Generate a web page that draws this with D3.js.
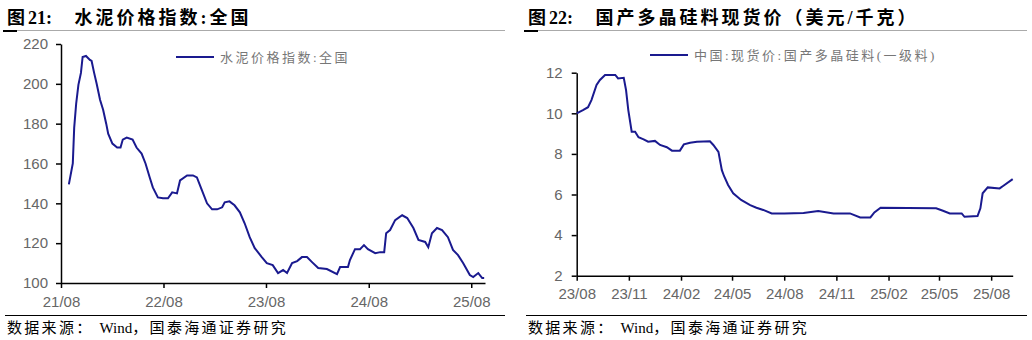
<!DOCTYPE html>
<html>
<head>
<meta charset="utf-8">
<style>
    body {
        margin: 0;
        background: #fff;
    }
    svg {
        display: block;
    }
    .title {
        font-family: "Liberation Serif", "Noto Sans CJK SC";
        font-size: 18px;
        font-weight: bold;
        letter-spacing: 3px;
        white-space: pre;
        fill: #000;
    }
    .source {
        font-family: "Liberation Serif", "Noto Sans CJK SC";
        font-size: 15px;
        letter-spacing: 2.3px;
        white-space: pre;
        fill: #000;
    }
    .tight {
        letter-spacing: 0;
    }
    .legend-text {
        font-family: "Liberation Serif", "Noto Sans CJK SC";
        font-size: 13px;
        letter-spacing: 2.5px;
        fill: #777;
    }
    .axis text {
        font-family: "Liberation Sans", Arial;
        font-size: 15px;
        fill: #666;
    }
    .axis path, .axis line {
        stroke: #000;
        stroke-width: 1.5px;
    }
    .series {
        fill: none;
        stroke: #1a1a8f;
        stroke-width: 2px;
    }
</style>
</head>
<body>
<script src="https://cdn.jsdelivr.net/npm/d3@7"></script>
<script>

    // 图21 水泥价格指数:全国
    var cementDates = [
        "2021-08-29","2021-09-12","2021-09-17","2021-09-24","2021-10-02","2021-10-11","2021-10-17","2021-10-29",
        "2021-11-12","2021-11-18","2021-11-27","2021-12-06","2021-12-18","2021-12-29","2022-01-09","2022-01-16",
        "2022-01-31","2022-02-17","2022-03-01","2022-03-09","2022-03-23","2022-04-13","2022-04-27","2022-05-15",
        "2022-05-29","2022-06-13","2022-06-24","2022-07-12","2022-07-30","2022-08-17","2022-09-01","2022-09-18",
        "2022-09-29","2022-10-24","2022-11-14","2022-11-28","2022-12-16","2023-01-03","2023-01-21","2023-02-08",
        "2023-02-26","2023-03-07","2023-03-24","2023-04-11","2023-04-30","2023-05-17","2023-06-04","2023-06-22",
        "2023-07-17","2023-08-04","2023-08-25","2023-09-13","2023-10-01","2023-10-15","2023-11-02","2023-11-20",
        "2023-12-07","2023-12-25","2024-01-12","2024-02-03","2024-03-05","2024-04-10","2024-04-21","2024-05-19",
        "2024-05-26","2024-06-13","2024-07-01","2024-07-15","2024-07-29","2024-08-24","2024-09-11","2024-09-25",
        "2024-10-02","2024-10-16","2024-11-03","2024-11-28","2024-12-16","2025-01-07","2025-01-25","2025-02-18",
        "2025-03-01","2025-03-14","2025-04-01","2025-04-19","2025-05-10","2025-05-28","2025-06-15","2025-07-03",
        "2025-07-27","2025-08-08","2025-08-26","2025-09-09","2025-09-16"
    ];
    var cementValues = [
        149.5,160,178,190,199.5,205.5,213.5,214,
        212,211.5,205.5,200,192,187,180,175,
        170,168,168,172,173,172,168,165,
        160,153,148,143,142.5,142.5,145.5,145,
        151.5,154,154,153,146.5,140,137,137,
        138,140.5,141,139,135.5,130,123,117.5,
        113,110,109,105,106.5,105,110,111,
        113,113,110.5,107.5,107,104.5,108,108,
        111.5,117,117,119,117,115,115.5,115.5,
        125,126.6,131.6,134,132.6,127.6,121.6,120.6,
        118,125,127.6,126.6,123,116.6,114,110,
        104,103,105,102.5,102.5
    ];
    var cementYTicks = [100, 120, 140, 160, 180, 200, 220];
    var cementXTicks = ["2021-08-01", "2022-08-01", "2023-08-01", "2024-08-01", "2025-08-01"];

    // 图22 国产多晶硅料现货价
    var siliconDates = [
        "2023-08-01","2023-08-12","2023-08-21","2023-08-27","2023-09-05","2023-09-11","2023-09-20","2023-10-08",
        "2023-10-13","2023-10-23","2023-10-27","2023-10-31","2023-11-06","2023-11-12","2023-11-18","2023-11-27",
        "2023-12-05","2023-12-17","2023-12-26","2024-01-07","2024-01-16","2024-01-30","2024-02-06","2024-02-17",
        "2024-02-29","2024-03-23","2024-03-29","2024-04-07","2024-04-13","2024-04-17","2024-04-24","2024-05-03",
        "2024-05-17","2024-06-02","2024-06-13","2024-06-25","2024-07-10","2024-08-01","2024-09-04","2024-09-30",
        "2024-10-27","2024-11-25","2024-12-13","2024-12-31","2025-01-07","2025-01-18","2025-04-26","2025-05-08",
        "2025-05-20","2025-06-10","2025-06-15","2025-07-08","2025-07-13","2025-07-17","2025-07-26","2025-08-16",
        "2025-08-22","2025-09-08"
    ];
    var siliconValues = [
        10.0,10.16,10.3,10.65,11.4,11.64,11.89,11.89,
        11.72,11.75,11.15,10.16,9.09,9.09,8.82,8.72,
        8.6,8.64,8.44,8.33,8.16,8.16,8.47,8.55,
        8.6,8.62,8.44,8.1,7.2,6.9,6.47,6.06,
        5.73,5.48,5.35,5.24,5.07,5.07,5.09,5.19,
        5.07,5.07,4.87,4.87,5.12,5.35,5.32,5.2,
        5.07,5.07,4.9,4.94,5.32,6.06,6.35,6.3,
        6.42,6.76
    ];
    var siliconYTicks = [2, 4, 6, 8, 10, 12];
    var siliconXTicks = ["2023-08-01", "2023-11-01", "2024-02-01", "2024-05-01", "2024-08-01",
                         "2024-11-01", "2025-02-01", "2025-05-01", "2025-08-01"];

    var parseDate = d3.timeParse("%Y-%m-%d"),
        tickFormat = d3.timeFormat("%y/%m");

    var svg = d3.select("body").append("svg")
        .attr("width", 1032)
        .attr("height", 340);

    function drawPanel(opt) {
        var g = svg.append("g");

        var title = g.append("text")
            .attr("class", "title")
            .attr("x", opt.left + 2)
            .attr("y", 24);
        title.append("tspan").text("图");
        title.append("tspan").attr("class", "tight").text(opt.figNo + ":");
        title.append("tspan").text("   " + opt.title);

        g.append("line")
            .attr("x1", opt.left).attr("x2", opt.right)
            .attr("y1", 30.5).attr("y2", 30.5)
            .attr("stroke", "#aaa")
            .attr("stroke-width", 1);

        g.append("line")
            .attr("x1", opt.left - 2).attr("x2", opt.left + 12)
            .attr("y1", 31).attr("y2", 31)
            .attr("stroke", "#000")
            .attr("stroke-width", 2);

        var data = opt.dates.map(function(d, i) {
            return {date: parseDate(d), value: opt.values[i]};
        });

        var x = d3.scaleTime()
            .domain([parseDate(opt.xStart), parseDate(opt.xEnd)])
            .range([opt.plotX0, opt.plotX1]);

        var y = d3.scaleLinear()
            .domain([opt.yTicks[0], opt.yTicks[opt.yTicks.length - 1]])
            .range([opt.plotY1, opt.plotY0]);

        g.append("g")
            .attr("class", "axis")
            .attr("transform", "translate(" + opt.plotX0 + ",0)")
            .call(d3.axisLeft(y)
                .tickValues(opt.yTicks)
                .tickSizeInner(5)
                .tickSizeOuter(0)
                .tickPadding(opt.yPad));

        g.append("g")
            .attr("class", "axis")
            .attr("transform", "translate(0," + opt.plotY1 + ")")
            .call(d3.axisBottom(x)
                .tickValues(opt.xTicks.map(parseDate))
                .tickFormat(tickFormat)
                .tickSizeInner(5)
                .tickSizeOuter(0)
                .tickPadding(8));

        g.append("path")
            .datum(data)
            .attr("class", "series")
            .attr("d", d3.line()
                .x(function(d) { return x(d.date); })
                .y(function(d) { return y(d.value); }));

        g.append("line")
            .attr("x1", opt.legendX).attr("x2", opt.legendX + 38)
            .attr("y1", opt.legendY).attr("y2", opt.legendY)
            .attr("stroke", "#1a1a8f")
            .attr("stroke-width", 2);

        g.append("text")
            .attr("class", "legend-text")
            .attr("x", opt.legendX + 44)
            .attr("y", opt.legendY + 4.5)
            .text(opt.legend);

        g.append("line")
            .attr("x1", opt.left).attr("x2", opt.right)
            .attr("y1", 315.5).attr("y2", 315.5)
            .attr("stroke", "#000")
            .attr("stroke-width", 1);

        var source = g.append("text")
            .attr("class", "source")
            .attr("x", opt.left + 2)
            .attr("y", 333);
        source.append("tspan").text("数据来源： ");
        source.append("tspan").attr("class", "tight").text("Wind");
        source.append("tspan").text("，国泰海通证券研究");
    }

    drawPanel({
        figNo: "21",
        title: "水泥价格指数:全国",
        legend: "水泥价格指数:全国",
        left: 5, right: 505,
        plotX0: 61, plotX1: 485, plotY0: 44, plotY1: 283,
        xStart: "2021-08-01", xEnd: "2025-09-19",
        dates: cementDates, values: cementValues,
        yTicks: cementYTicks, xTicks: cementXTicks,
        yPad: 8,
        legendX: 176, legendY: 57
    });

    drawPanel({
        figNo: "22",
        title: "国产多晶硅料现货价（美元/千克）",
        legend: "中国:现货价:国产多晶硅料(一级料)",
        left: 526, right: 1027,
        plotX0: 576.7, plotX1: 1012.7, plotY0: 72.7, plotY1: 275.7,
        xStart: "2023-08-01", xEnd: "2025-09-08",
        dates: siliconDates, values: siliconValues,
        yTicks: siliconYTicks, xTicks: siliconXTicks,
        yPad: 9,
        legendX: 650, legendY: 55
    });
</script>
</body>
</html>
